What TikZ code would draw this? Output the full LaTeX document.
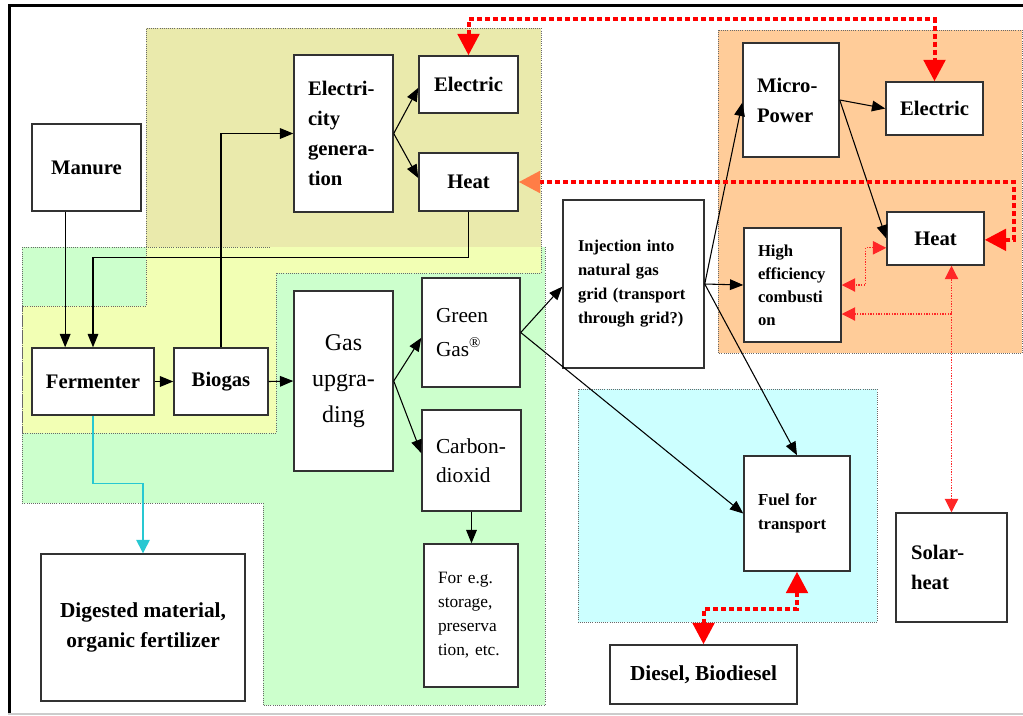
\documentclass[tikz,border=0pt]{standalone}
\usepackage{fontspec}
\setmainfont{Liberation Serif}
\usetikzlibrary{arrows.meta}
\definecolor{hatchbase}{RGB}{234,234,172}
\definecolor{lyellow}{RGB}{242,255,180}
\definecolor{lgreen}{RGB}{204,255,204}
\definecolor{lorange}{RGB}{255,204,153}
\definecolor{lcyan}{RGB}{204,255,255}
\definecolor{boxc}{RGB}{50,50,50}
\definecolor{regc}{RGB}{105,105,105}
\definecolor{coralc}{RGB}{255,125,70}
\definecolor{cyanl}{RGB}{40,200,210}
\begin{document}
\begin{tikzpicture}[x=0.75pt,y=-0.75pt,
  box/.style={draw=boxc, line width=1.1pt, fill=white, inner ysep=0pt},
  cbox/.style={box, align=center, inner xsep=0pt},
  lbox/.style={box, align=left, inner xsep=10.5pt},
  fb/.style={font=\fontsize{15.5}{22.5}\selectfont\bfseries},
  regb/.style={draw=regc, line width=0.6pt, densely dotted},
  blk/.style={draw=black, line width=0.8pt, -{Triangle[length=10pt,width=8pt]}},
  rthick/.style={draw=red, line width=3pt, dash pattern=on 3.8pt off 2.2pt,
     {Triangle[length=16pt,width=16pt]}-{Triangle[length=16pt,width=16pt]}},
  rthin/.style={draw=red!85, line width=0.8pt, dash pattern=on 1pt off 1pt,
     {Triangle[length=10pt,width=10pt]}-{Triangle[length=10pt,width=10pt]}},
  cyarrow/.style={draw=cyanl, line width=1.1pt, -{Triangle[length=10pt,width=10pt]}}
]
\useasboundingbox (0,0) rectangle (1023,715);
\fill[white] (0,0) rectangle (1023,715);
% frame
\draw[black, line width=2.4pt] (8,5.5) -- (1023,5.5);
\draw[black, line width=2.4pt] (9.5,4) -- (9.5,715);
\draw[gray!40, line width=1.2pt] (8,714) -- (1023,714);

% regions
\fill[lgreen] (22,247) -- (545,247) -- (545,705) -- (263,705) -- (263,503) -- (22,503) -- cycle;
\fill[hatchbase] (146,28) rectangle (541,247);
\fill[lyellow] (146,247) -- (541,247) -- (541,273) -- (276,273) -- (276,433) -- (22,433) -- (22,306) -- (146,306) -- cycle;
\fill[lorange] (718,30) rectangle (1022,353);
\fill[lcyan] (578,389) rectangle (877,622);

% region borders
\draw[regb] (146,247) -- (146,28) -- (541,28) -- (541,273) -- (276,273) -- (276,433) -- (22,433) -- (22,306) -- (146,306) -- (146,247);
\draw[regb] (22,247) -- (271,247);
\draw[regb] (545,247) -- (545,705) -- (263,705) -- (263,503) -- (22,503) -- (22,247);
\draw[regb] (718,30) rectangle (1022,353);
\draw[regb] (578,389) rectangle (877,622);

% boxes
\node[cbox, fb, minimum width=81.75pt, minimum height=65.25pt] (manure) at (86.5,167.5) {Manure};
\node[lbox, fb, text width=53.25pt, minimum height=117.75pt] (elgen) at (343.5,133.5) {Electri-\\city\\genera-\\tion};
\node[cbox, fb, minimum width=74.25pt, minimum height=42.75pt] (elecL) at (468.5,84.5) {Electric};
\node[cbox, fb, minimum width=74.25pt, minimum height=43.5pt] (heatL) at (468.5,182) {Heat};
\node[cbox, fb, minimum width=91.5pt, minimum height=50.25pt] (ferm) at (93,381.5) {Fermenter};
\node[cbox, fb, minimum width=70.5pt, minimum height=50.25pt] (biogas) at (221,381.5) {Biogas};
\node[cbox, font=\fontsize{18}{27}\selectfont, minimum width=74.25pt, minimum height=135pt] (gasup) at (343.5,381) {Gas\\upgra-\\ding};
\node[lbox, font=\fontsize{16}{25}\selectfont, text width=52.5pt, minimum height=81.75pt] (green) at (471,332.5) {Green\\Gas\textsuperscript{®}};
\node[lbox, font=\fontsize{16}{22}\selectfont, text width=53.25pt, minimum height=75.75pt] (carbon) at (471.5,460.5) {Carbon-\\dioxid};
\node[lbox, font=\fontsize{13}{18}\selectfont, text width=49.5pt, minimum height=107.25pt] (foreg) at (471,615.5) {For e.g.\\storage,\\preserva\\tion, etc.};
\node[cbox, font=\fontsize{16}{22}\selectfont\bfseries, minimum width=153pt, minimum height=110.25pt] (digest) at (143,627.5) {Digested material,\\organic fertilizer};
\node[box, align=left, inner xsep=11.25pt, font=\fontsize{12.4}{18}\selectfont\bfseries, text width=83.25pt, minimum height=126pt] (inj) at (633.5,284) {Injection into\\natural gas\\grid (transport\\through grid?)};
\node[lbox, fb, text width=51pt, minimum height=85.5pt] (micro) at (791,100) {Micro-\\Power};
\node[cbox, fb, minimum width=72.75pt, minimum height=39.75pt] (elecR) at (934.5,108.5) {Electric};
\node[cbox, fb, minimum width=72.75pt, minimum height=39.75pt] (heatR) at (935.5,238.5) {Heat};
\node[lbox, font=\fontsize{12.5}{17.25}\selectfont\bfseries, text width=51.75pt, minimum height=85.5pt] (higheff) at (792.5,285) {High\\efficiency\\combusti\\on};
\node[lbox, font=\fontsize{12.6}{18}\selectfont\bfseries, text width=58.5pt, minimum height=86.25pt] (fuel) at (797,513.5) {Fuel for\\transport};
\node[box, align=left, inner xsep=11.25pt, fb, text width=60.75pt, minimum height=81.75pt] (solar) at (951.5,567.5) {Solar-\\heat};
\node[cbox, font=\fontsize{16}{22}\selectfont\bfseries, minimum width=140.25pt, minimum height=44.25pt] (diesel) at (703.5,674.5) {Diesel, Biodiesel};

% black connectors
\draw[blk] ([xshift=-16pt]manure.south) -- ([xshift=-16pt]manure.south |- ferm.north);
\draw[blk] (heatL.south) -- ++(0,46) -| (ferm.north);
\draw[blk] (biogas.north) |- (elgen.west);
\draw[blk] (elgen.east) -- ([yshift=-2.5pt]elecL.west);
\draw[blk] (elgen.east) -- ([yshift=3pt]heatL.west);
\draw[blk] (ferm.east) -- (biogas.west);
\draw[blk] (biogas.east) -- (gasup.west);
\draw[blk] (gasup.east) -- ([yshift=-4pt]green.west);
\draw[blk] (gasup.east) -- ([yshift=5.5pt]carbon.west);
\draw[blk] (carbon.south) -- (carbon.south |- foreg.north);
\draw[blk] (green.east) -- ([yshift=-2pt]inj.west);
\draw[blk] (green.east) -- (fuel.west);
\draw[blk] (inj.east) -- ([yshift=-2pt]micro.west);
\draw[blk] (inj.east) -- (higheff.west);
\draw[blk] (inj.east) -- (fuel.north);
\draw[blk] (micro.east) -- (elecR.west);
\draw[blk] (micro.east) -- (heatR.west);

% cyan connector
\draw[cyarrow] (ferm.south) -- ++(0,68) -| (digest.north);

% red thick dotted connectors
\draw[rthick] (elecL.north) -- ++(0,-36) -| (elecR.north);
\draw[draw=red, line width=3pt, dash pattern=on 3.8pt off 2.2pt,
  {Triangle[length=16pt,width=16pt,color=coralc]}-{Triangle[length=16pt,width=16pt]}]
  (heatL.east) -- ++(495,0) |- ([yshift=-1pt]heatR.east);
\draw[rthick] (fuel.south) -- ++(0,37) -| (diesel.north);

% red thin dotted connectors
\draw[rthin] ([yshift=-7pt]heatR.west) -- ++(-21,0) |- (higheff.east);
\draw[rthin] (solar.north) -- (solar.north |- heatR.south);
\coordinate (br) at (951.5,314);
\draw[draw=red!85, line width=0.8pt, dash pattern=on 1pt off 1pt, -{Triangle[length=10pt,width=10pt]}] (br) -- ([yshift=-21.75pt]higheff.east);
\end{tikzpicture}
\end{document}
